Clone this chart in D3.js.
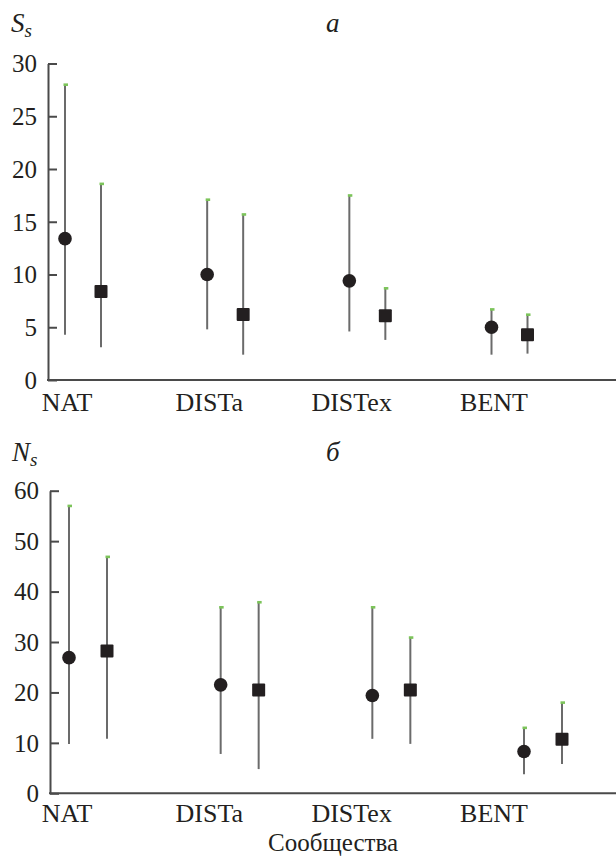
<!DOCTYPE html>
<html>
<head>
<meta charset="utf-8">
<script src="https://cdn.jsdelivr.net/npm/d3@7"></script>
<style>
  html, body { margin: 0; padding: 0; background: #fff; }
  svg { display: block; }
  text { font-family: "Liberation Serif", "Times New Roman", serif; fill: #231f20; }
</style>
</head>
<body>
<div id="chart"></div>
<script>
// Communities
const categories = ["NAT", "DISTa", "DISTex", "BENT"];

// Panel а: S_s — circle series (mean, lower, upper)
const sCircleMean = [13.4, 10.0, 9.4, 5.0];
const sCircleLow  = [4.3, 4.8, 4.6, 2.4];
const sCircleHigh = [28.0, 17.1, 17.5, 6.7];
// Panel а: S_s — square series
const sSquareMean = [8.4, 6.2, 6.1, 4.3];
const sSquareLow  = [3.1, 2.4, 3.8, 2.5];
const sSquareHigh = [18.6, 15.7, 8.7, 6.2];

// Panel б: N_s — circle series
const nCircleMean = [26.9, 21.5, 19.4, 8.3];
const nCircleLow  = [9.8, 7.8, 10.8, 3.8];
const nCircleHigh = [57.0, 36.9, 36.9, 13.0];
// Panel б: N_s — square series
const nSquareMean = [28.2, 20.5, 20.5, 10.7];
const nSquareLow  = [10.8, 4.8, 9.8, 5.8];
const nSquareHigh = [46.9, 37.9, 30.9, 18.0];

const sTicks = [0, 5, 10, 15, 20, 25, 30];
const nTicks = [0, 10, 20, 30, 40, 50, 60];

const W = 616, H = 857;
const svg = d3.select("#chart").append("svg").attr("width", W).attr("height", H);

const AXIS = "#4a4a4a", WHISKER = "#6b6b6b", CAP = "#7cc45a", MARK = "#231f20";

function series(mean, low, high) {
  return categories.map((c, i) => ({ cat: c, mean: mean[i], low: low[i], high: high[i] }));
}

function panel(cfg) {
  const g = svg.append("g");
  const y = d3.scaleLinear().domain(cfg.domain).range([cfg.yBottom, cfg.yTop]);
  const xg = d3.scalePoint().domain(categories).range(cfg.groupRange);
  const xl = d3.scalePoint().domain(categories).range([67, 494]);

  // y axis with inward ticks
  const ax = g.append("g")
    .attr("transform", `translate(${cfg.axisX},0)`)
    .call(d3.axisLeft(y).tickValues(cfg.ticks).tickSizeInner(-9).tickSizeOuter(0).tickPadding(11));
  ax.selectAll("path, line").attr("stroke", AXIS).attr("stroke-width", 2);
  ax.selectAll("text")
    .attr("font-size", 25)
    .attr("fill", "#231f20")
    .attr("dy", "0.33em");

  // x axis baseline
  g.append("line")
    .attr("x1", cfg.axisX - 1).attr("x2", W)
    .attr("y1", y(0)).attr("y2", y(0))
    .attr("stroke", AXIS).attr("stroke-width", 2);

  // category labels
  g.selectAll("text.cat").data(categories).join("text")
    .attr("class", "cat")
    .attr("x", d => xl(d)).attr("y", cfg.labelY)
    .attr("text-anchor", "middle")
    .attr("font-size", 26)
    .text(d => d);

  // whiskers, caps, markers
  [[cfg.circle, -cfg.offset, "circle"], [cfg.square, cfg.offset, "square"]].forEach(([data, off, shape]) => {
    const sg = g.append("g");
    sg.selectAll("line.w").data(data).join("line")
      .attr("x1", d => xg(d.cat) + off).attr("x2", d => xg(d.cat) + off)
      .attr("y1", d => y(d.low)).attr("y2", d => y(d.high))
      .attr("stroke", WHISKER).attr("stroke-width", 2);
    sg.selectAll("rect.cap").data(data).join("rect")
      .attr("x", d => xg(d.cat) + off - 1.5).attr("y", d => y(d.high) - 1.2)
      .attr("width", 4.5).attr("height", 2.6)
      .attr("fill", CAP);
    if (shape === "circle") {
      sg.selectAll("circle").data(data).join("circle")
        .attr("cx", d => xg(d.cat) + off).attr("cy", d => y(d.mean))
        .attr("r", 6.8).attr("fill", MARK);
    } else {
      sg.selectAll("rect.m").data(data).join("rect")
        .attr("x", d => xg(d.cat) + off - 6.5).attr("y", d => y(d.mean) - 6.5)
        .attr("width", 13).attr("height", 13).attr("rx", 1)
        .attr("fill", MARK);
    }
  });

  // axis title with subscript
  const t = g.append("text").attr("x", cfg.titleX).attr("y", cfg.titleY)
    .attr("font-style", "italic").attr("font-size", 27);
  t.append("tspan").text(cfg.title);
  t.append("tspan").attr("font-size", 19).attr("dy", 5).text("s");

  // panel letter
  g.append("text").attr("x", 326).attr("y", cfg.titleY)
    .attr("font-style", "italic").attr("font-size", 27)
    .text(cfg.letter);
}

panel({
  domain: [0, 30], ticks: sTicks,
  yTop: 63.5, yBottom: 380, axisX: 48,
  groupRange: [83, 509.5], offset: 18,
  labelY: 411, title: "S", titleX: 11, titleY: 32, letter: "а",
  circle: series(sCircleMean, sCircleLow, sCircleHigh),
  square: series(sSquareMean, sSquareLow, sSquareHigh)
});

panel({
  domain: [0, 60], ticks: nTicks,
  yTop: 490.7, yBottom: 793.3, axisX: 50,
  groupRange: [88, 543], offset: 19,
  labelY: 822, title: "N", titleX: 12, titleY: 461, letter: "б",
  circle: series(nCircleMean, nCircleLow, nCircleHigh),
  square: series(nSquareMean, nSquareLow, nSquareHigh)
});

svg.append("text")
  .attr("x", 333).attr("y", 851)
  .attr("text-anchor", "middle")
  .attr("font-size", 25)
  .text("Сообщества");
</script>
</body>
</html>
